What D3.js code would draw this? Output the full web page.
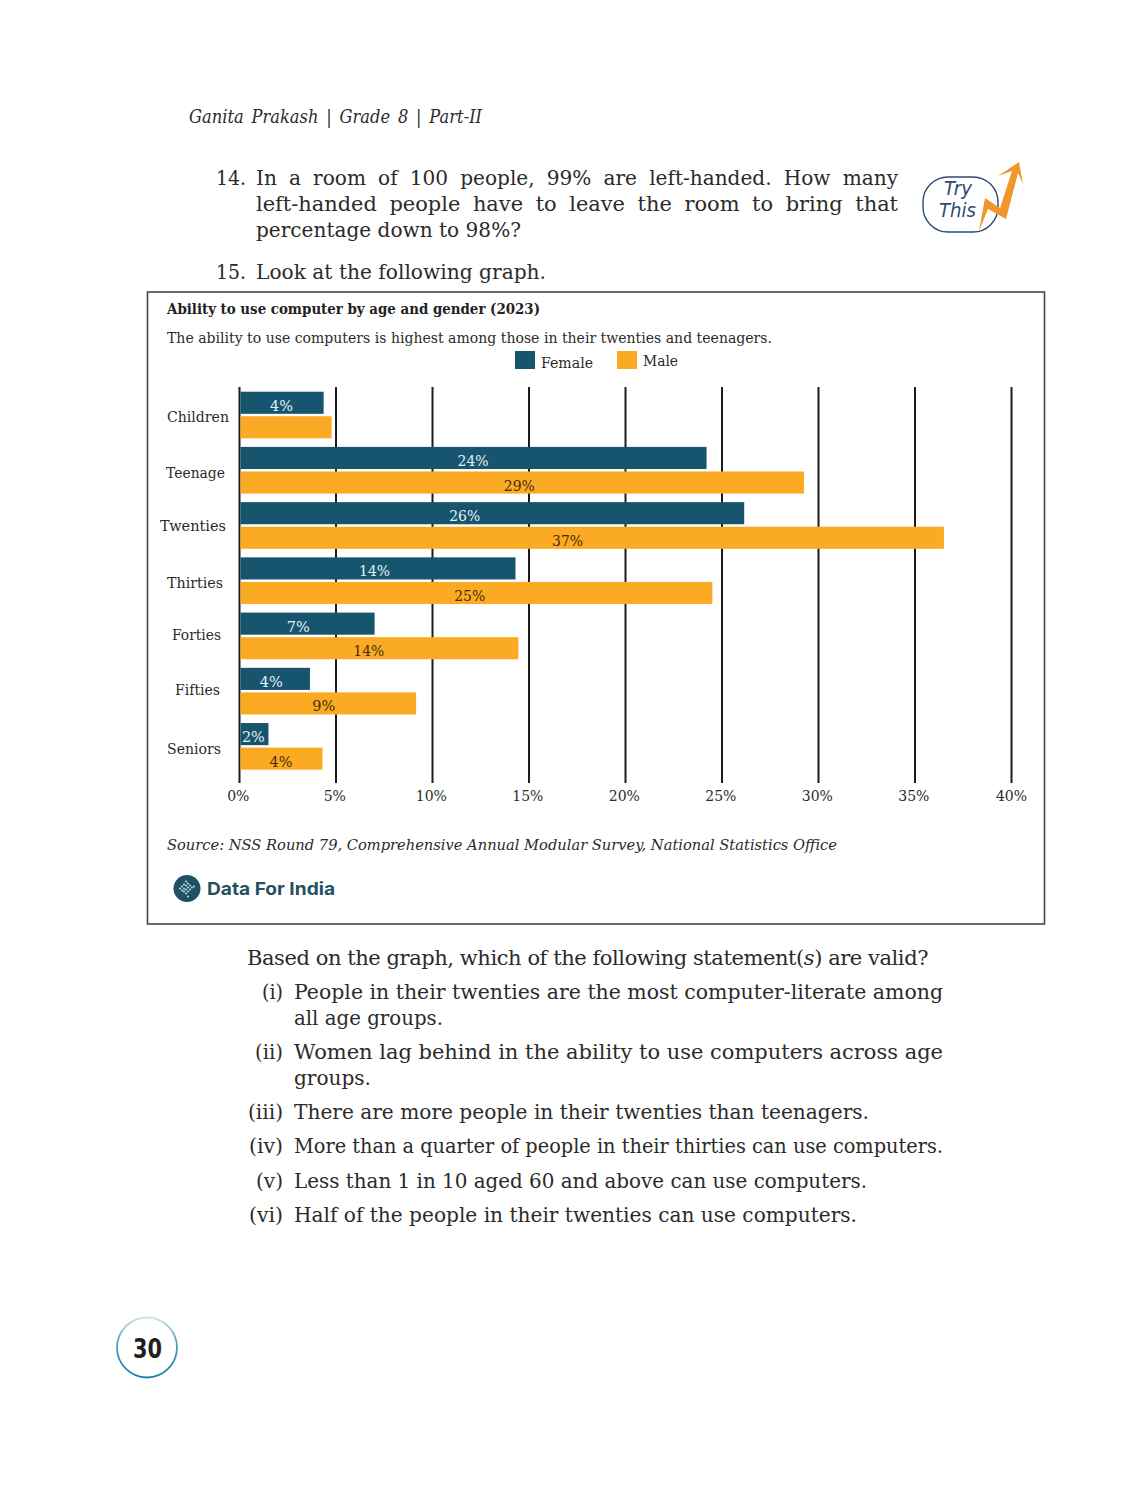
<!DOCTYPE html>
<html>
<head>
<meta charset="utf-8">
<script src="https://cdn.jsdelivr.net/npm/d3@7"></script>
<style>
html, body { margin: 0; padding: 0; background: #fff; }
svg { display: block; }
text { font-family: "DejaVu Serif", serif; }
</style>
</head>
<body>
<div id="chart"></div>
<script>
const categories = ["Children", "Teenage", "Twenties", "Thirties", "Forties", "Fifties", "Seniors"];
const series = ["Female", "Male"];
const female = [4.36, 24.2, 26.15, 14.3, 7.0, 3.65, 1.5];
const male = [4.77, 29.25, 36.5, 24.5, 14.45, 9.15, 4.3];
const femaleLabels = ["4%", "24%", "26%", "14%", "7%", "4%", "2%"];
const maleLabels = [null, "29%", "37%", "25%", "14%", "9%", "4%"];
const xTicks = [0, 5, 10, 15, 20, 25, 30, 35, 40];

// where the printed labels sit, in axis units (they are not centred in the bars)
const femaleLabelAt = [2.18, 12.1, 11.67, 7.0, 3.05, 1.65, 0.72];
const maleLabelAt = [null, 14.5, 17.0, 11.93, 6.7, 4.37, 2.15];
// category labels were placed by hand in the original: [right edge, text width, centre y]
const catPlace = [[229, 62, 417], [225, 59, 473], [226, 66, 526], [223, 56, 583], [221, 49, 635], [220, 45, 690], [221, 54, 749]];

const width = 1148, height = 1493;
const svg = d3.select("#chart").append("svg").attr("width", width).attr("height", height);

// text squeezed to the width it has in the reference
function put(str, x, y, w, size, opts = {}) {
  const t = svg.append("text").attr("x", x).attr("y", y).attr("font-size", size)
    .attr("fill", opts.fill || "#2b2b2b").text(str);
  if (w) t.attr("textLength", w).attr("lengthAdjust", "spacingAndGlyphs");
  if (opts.italic) t.attr("font-style", "italic");
  if (opts.bold) t.attr("font-weight", "bold");
  if (opts.family) t.style("font-family", opts.family);
  if (opts.words) t.attr("word-spacing", opts.words);
  return t;
}

// page text above the chart
put("Ganita Prakash | Grade 8 | Part-II", 189, 123, 293, 18.5, {italic: true, words: 3});
put("14.", 216, 185, 30, 21);
put("In a room of 100 people, 99% are left-handed. How many", 256, 185, 642, 21, {words: 6});
put("left-handed people have to leave the room to bring that", 256, 211, 642, 21, {words: 6});
put("percentage down to 98%?", 256, 237, 265, 21);
put("15.", 216, 279, 30, 21);
put("Look at the following graph.", 256, 279, 290, 21);

// Try This badge
svg.append("rect").attr("x", 923).attr("y", 177).attr("width", 75).attr("height", 55).attr("rx", 25)
  .attr("fill", "#fff").attr("stroke", "#2f4a6d").attr("stroke-width", 1.4);
put("Try", 944, 195, 28, 19, {italic: true, fill: "#2f4a6d", family: "'DejaVu Sans', sans-serif"});
put("This", 939, 217, 37, 19, {italic: true, fill: "#2f4a6d", family: "'DejaVu Sans', sans-serif"});
svg.append("path")
  .attr("d", "M979,231 L985,198 L1000,208 L1012,171 L998,176 L1019,162 L1023,184 L1018,173 L1006,219 L988,209 Z")
  .attr("fill", "#f0962a");

// chart frame
svg.append("rect").attr("x", 147.5).attr("y", 292).attr("width", 897).attr("height", 632)
  .attr("fill", "#fff").attr("stroke", "#444").attr("stroke-width", 1.6);

put("Ability to use computer by age and gender (2023)", 167, 314, 373, 14.5, {bold: true, fill: "#222"});
put("The ability to use computers is highest among those in their twenties and teenagers.", 167, 343, 605, 14.8);

const x = d3.scaleLinear().domain([0, 40]).range([239.5, 1011.5]);
const y = d3.scaleBand().domain(categories).range([391.7, 769.7]).paddingInner(0.155).paddingOuter(0);
const y1 = d3.scaleBand().domain(series).range([0, y.bandwidth()]).paddingInner(0.1).paddingOuter(0);
const color = d3.scaleOrdinal().domain(series).range(["#17556e", "#fbab23"]);

// legend
const legend = [{name: "Female", sx: 515, tx: 541, ty: 368, w: 52}, {name: "Male", sx: 617, tx: 643, ty: 366, w: 35}];
legend.forEach(d => {
  svg.append("rect").attr("x", d.sx).attr("y", 351).attr("width", 20).attr("height", 18).attr("fill", color(d.name));
  put(d.name, d.tx, d.ty, d.w, 14.8);
});

// grid lines come from the axis ticks
const xAxis = svg.append("g").attr("transform", "translate(0,783)")
  .call(d3.axisBottom(x).tickValues(xTicks).tickSize(6).offset(0).tickFormat(d => d + "%"));
xAxis.select(".domain").remove();
xAxis.selectAll(".tick line").attr("y1", -396).attr("y2", 0).attr("stroke", "#1c1c1c").attr("stroke-width", 2);
xAxis.selectAll(".tick text").attr("y", 18).attr("dy", 0).attr("dx", d => d === 40 ? 0 : -1.2).attr("font-size", 14)
  .style("font-family", '"DejaVu Serif", serif').attr("fill", "#2b2b2b");

const rows = categories.map((c, i) => [
  {c, s: "Female", v: female[i], label: femaleLabels[i], at: femaleLabelAt[i]},
  {c, s: "Male", v: male[i], label: maleLabels[i], at: maleLabelAt[i]}
]);

const groups = svg.append("g").selectAll("g").data(rows).join("g")
  .attr("transform", d => `translate(0,${y(d[0].c)})`);

groups.selectAll("rect").data(d => d).join("rect")
  .attr("x", x(0) + 1)
  .attr("y", d => y1(d.s))
  .attr("width", d => x(d.v) - x(0) - 1)
  .attr("height", y1.bandwidth())
  .attr("fill", d => color(d.s));

groups.selectAll("text").data(d => d.filter(e => e.label)).join("text")
  .attr("x", d => x(d.at))
  .attr("y", d => y1(d.s) + y1.bandwidth() / 2 + 8)
  .attr("text-anchor", "middle")
  .attr("font-size", 14)
  .attr("textLength", d => d.label.length === 3 ? 31 : 23)
  .attr("lengthAdjust", "spacingAndGlyphs")
  .attr("fill", d => d.s === "Female" ? "#e4f3f5" : "#4a2a08")
  .text(d => d.label);

// category labels
categories.forEach((c, i) => {
  const p = catPlace[i];
  put(c, p[0] - p[1], p[2] + 5, p[1], 14.8);
});

put("Source: NSS Round 79, Comprehensive Annual Modular Survey, National Statistics Office", 167, 850, 670, 15.2, {italic: true});

// Data For India logo
svg.append("circle").attr("cx", 187).attr("cy", 888.5).attr("r", 13.5).attr("fill", "#1f5162");
const logoDots = [[-7, 0], [-5, -2], [-5, 2], [-3, -4], [-3, 0], [-3, 3], [-1, -7], [-1, -3], [-1, 1], [-1, 5], [1, -5], [1, -1], [1, 3], [1, 8], [3, -3], [3, 1], [5, -1], [7, -2]];
svg.append("g").attr("transform", "translate(187,888.5)").selectAll("circle").data(logoDots).join("circle")
  .attr("cx", d => d[0]).attr("cy", d => d[1]).attr("r", 0.9).attr("fill", "#dfeef0");
put("Data For India", 207, 894.5, 128, 17.5, {bold: true, fill: "#25505f", family: "Inter, 'Open Sans', sans-serif"});

// page text below the chart: three pieces because of the italic s, tightened with letter spacing
const basedParts = [["Based on the graph, which of the following statement(", false], ["s", true], [") are valid?", false]];
const basedNodes = basedParts.map(d => put(d[0], 247, 965, 0, 21, {italic: d[1]}));
const basedChars = d3.sum(basedParts, d => d[0].length);
const basedSpacing = (681 - d3.sum(basedNodes, n => n.node().getComputedTextLength())) / basedChars;
let basedX = 247;
basedNodes.forEach(n => {
  n.attr("x", basedX).attr("letter-spacing", basedSpacing);
  basedX += n.node().getComputedTextLength();
});

const items = [
  ["(i)", 262, 999, 21, "People in their twenties are the most computer-literate among", 649],
  [null, 0, 1025, 0, "all age groups.", 149],
  ["(ii)", 255, 1059, 28, "Women lag behind in the ability to use computers across age", 649],
  [null, 0, 1085, 0, "groups.", 77],
  ["(iii)", 248, 1119, 35, "There are more people in their twenties than teenagers.", 575],
  ["(iv)", 249, 1153, 34, "More than a quarter of people in their thirties can use computers.", 649],
  ["(v)", 256, 1188, 27, "Less than 1 in 10 aged 60 and above can use computers.", 573],
  ["(vi)", 249, 1222, 34, "Half of the people in their twenties can use computers.", 563]
];
items.forEach(d => {
  if (d[0]) put(d[0], d[1], d[2], d[3], 21);
  put(d[4], 294, d[2], d[5], 21);
});

// page number
const grad = svg.append("defs").append("linearGradient").attr("id", "ring")
  .attr("x1", 0).attr("y1", 0).attr("x2", 0).attr("y2", 1);
grad.append("stop").attr("offset", "0%").attr("stop-color", "#cfe3ea");
grad.append("stop").attr("offset", "45%").attr("stop-color", "#4d9cbb");
grad.append("stop").attr("offset", "100%").attr("stop-color", "#1f7fa6");
svg.append("circle").attr("cx", 147).attr("cy", 1347.5).attr("r", 30)
  .attr("fill", "#fff").attr("stroke", "url(#ring)").attr("stroke-width", 1.8);
put("30", 133, 1358, 29, 26, {bold: true, fill: "#1f1f1f", family: "'DejaVu Sans', sans-serif"});
</script>
</body>
</html>
